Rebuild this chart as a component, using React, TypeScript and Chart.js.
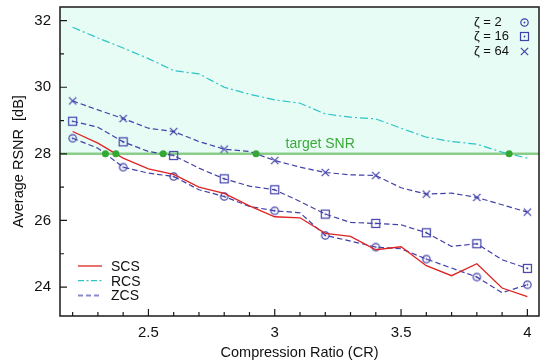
import React, { useEffect, useRef } from 'react';
import { Chart, registerables } from 'chart.js';

Chart.register(...registerables);

// ---------- data ----------
const compressionRatios = [2.2, 2.3, 2.4, 2.5, 2.6, 2.7, 2.8, 2.9, 3.0, 3.1, 3.2, 3.3, 3.4, 3.5, 3.6, 3.7, 3.8, 3.9, 4.0];
const scsValues = [28.67, 28.32, 27.87, 27.55, 27.38, 27.0, 26.81, 26.44, 26.11, 26.08, 25.61, 25.52, 25.12, 25.21, 24.64, 24.34, 24.7, 23.97, 23.71];
const rcsValues = [31.8, 31.48, 31.18, 30.86, 30.5, 30.4, 30.0, 29.79, 29.62, 29.52, 29.2, 29.1, 29.05, 28.77, 28.5, 28.37, 28.29, 28.05, 27.87];
const zcsZeta2 = [28.47, 28.17, 27.6, 27.42, 27.32, 26.92, 26.72, 26.42, 26.29, 26.23, 25.55, 25.38, 25.2, 25.15, 24.84, 24.57, 24.3, 23.83, 24.07];
const zcsZeta16 = [28.98, 28.8, 28.36, 28.07, 27.95, 27.57, 27.25, 27.03, 26.92, 26.57, 26.19, 25.94, 25.91, 25.87, 25.63, 25.22, 25.3, 24.82, 24.56];
const zcsZeta64 = [29.59, 29.32, 29.06, 28.77, 28.67, 28.37, 28.14, 28.07, 27.8, 27.6, 27.44, 27.37, 27.35, 26.98, 26.79, 26.82, 26.69, 26.47, 26.25];
const targetSNR = 28;
const targetLabel = 'target SNR';
const targetLabelCR = 3.18;

const xMajorTicks = [2.5, 3, 3.5, 4];
const xTickLabels = ['2.5', '3', '3.5', '4'];
const xMinorTicks = [2.2, 2.3, 2.4, 2.6, 2.7, 2.8, 2.9, 3.1, 3.2, 3.3, 3.4, 3.6, 3.7, 3.8, 3.9];
const yMajorTicks = [24, 26, 28, 30, 32];
const yTickLabels = ['24', '26', '28', '30', '32'];
const yMinorTicks = [25, 27, 29, 31];

const methodLabels = ['SCS', 'RCS', 'ZCS'];
const zetaLabels = ['ζ = 2', 'ζ = 16', 'ζ = 64'];

const xTitle = 'Compression Ratio (CR)';
const yTitle = 'Average RSNR  [dB]';

// ---------- styles ----------
const FONT = "'Liberation Sans', Arial, Helvetica, sans-serif";
const RED = '#dc2424';
const CYAN = '#2cc4c4';
const BLUE = '#4040a8';
const GREEN_LINE = '#88ce88';
const GREEN_DOT = '#34a834';
const GREEN_TEXT = '#3aaa3a';
const MINT = '#e8fcf6';
const ZCS_DASH = [5.5, 3];
const RCS_DASH = [8, 3, 2, 3];

type MarkerKind = 'circle' | 'square' | 'cross';

function makeMarker(kind: MarkerKind): HTMLCanvasElement {
  const c = document.createElement('canvas');
  c.width = 11;
  c.height = 11;
  const g = c.getContext('2d')!;
  g.strokeStyle = BLUE;
  g.fillStyle = BLUE;
  g.lineWidth = 1.2;
  if (kind === 'circle') {
    g.beginPath();
    g.arc(5.5, 5.5, 3.7, 0, Math.PI * 2);
    g.stroke();
    g.beginPath();
    g.arc(5.5, 5.5, 0.9, 0, Math.PI * 2);
    g.fill();
  } else if (kind === 'square') {
    g.strokeRect(1.5, 1.5, 8, 8);
    g.beginPath();
    g.arc(5.5, 5.5, 0.9, 0, Math.PI * 2);
    g.fill();
  } else {
    g.beginPath();
    g.moveTo(1.8, 1.8);
    g.lineTo(9.2, 9.2);
    g.moveTo(9.2, 1.8);
    g.lineTo(1.8, 9.2);
    g.stroke();
  }
  return c;
}

function toPoints(values: number[]) {
  return compressionRatios.map((cr, i) => ({ x: cr, y: values[i] }));
}

function crossings(values: number[], level: number) {
  for (let i = 0; i < values.length - 1; i++) {
    const a = values[i];
    const b = values[i + 1];
    if (a >= level && b < level) {
      const t = (a - level) / (a - b);
      const cr = compressionRatios[i] + t * (compressionRatios[i + 1] - compressionRatios[i]);
      return [{ x: cr, y: level }];
    }
  }
  return [];
}

function isIn(list: number[], v: number) {
  return list.findIndex((m) => Math.abs(m - v) < 1e-9);
}

export default function App() {
  const canvasRef = useRef<HTMLCanvasElement | null>(null);

  useEffect(() => {
    const canvas = canvasRef.current;
    if (!canvas) return;

    const markers = {
      circle: makeMarker('circle'),
      square: makeMarker('square'),
      cross: makeMarker('cross'),
    };
    const markerRadius = (ctx: any) => (ctx.dataIndex % 2 === 0 ? 5 : 0);

    const crossingPoints = [
      ...crossings(zcsZeta2, targetSNR),
      ...crossings(scsValues, targetSNR),
      ...crossings(zcsZeta16, targetSNR),
      ...crossings(zcsZeta64, targetSNR),
      ...crossings(rcsValues, targetSNR),
    ];

    const decor = {
      id: 'decor',
      beforeDatasetsDraw(chart: any) {
        const { ctx, chartArea: a, scales } = chart;
        const y = scales.y;
        const x = scales.x;
        const yt = y.getPixelForValue(targetSNR);
        ctx.save();
        ctx.fillStyle = MINT;
        ctx.fillRect(a.left, a.top, a.right - a.left, yt - a.top);
        ctx.strokeStyle = GREEN_LINE;
        ctx.lineWidth = 2.5;
        ctx.beginPath();
        ctx.moveTo(a.left, yt);
        ctx.lineTo(a.right, yt);
        ctx.stroke();
        ctx.fillStyle = GREEN_TEXT;
        ctx.font = `14px ${FONT}`;
        ctx.textAlign = 'center';
        ctx.textBaseline = 'alphabetic';
        ctx.fillText(targetLabel, x.getPixelForValue(targetLabelCR), yt - 6);
        ctx.restore();
      },
      afterDraw(chart: any) {
        const { ctx, chartArea: a, scales } = chart;
        const x = scales.x;
        const y = scales.y;
        ctx.save();
        // frame
        ctx.strokeStyle = '#1a1a1a';
        ctx.lineWidth = 1.5;
        ctx.strokeRect(a.left, a.top, a.right - a.left, a.bottom - a.top);
        // inward ticks
        ctx.lineWidth = 1.2;
        ctx.beginPath();
        xMajorTicks.forEach((v) => {
          const px = x.getPixelForValue(v);
          ctx.moveTo(px, a.bottom);
          ctx.lineTo(px, a.bottom - 7);
        });
        xMinorTicks.forEach((v) => {
          const px = x.getPixelForValue(v);
          ctx.moveTo(px, a.bottom);
          ctx.lineTo(px, a.bottom - 4);
        });
        yMajorTicks.forEach((v) => {
          const py = y.getPixelForValue(v);
          ctx.moveTo(a.left, py);
          ctx.lineTo(a.left + 7, py);
        });
        yMinorTicks.forEach((v) => {
          const py = y.getPixelForValue(v);
          ctx.moveTo(a.left, py);
          ctx.lineTo(a.left + 4, py);
        });
        ctx.stroke();

        // top-right legend (zeta markers)
        ctx.font = `13px ${FONT}`;
        ctx.fillStyle = '#111';
        ctx.textAlign = 'left';
        ctx.textBaseline = 'middle';
        const zMarkers = [markers.circle, markers.square, markers.cross];
        zetaLabels.forEach((lab, i) => {
          const ly = a.top + 15 + i * 14.7;
          ctx.fillText(lab, a.right - 65, ly);
          const m = zMarkers[i];
          ctx.drawImage(m, Math.round(a.right - 15 - m.width / 2), Math.round(ly - m.height / 2));
        });

        // bottom-left legend (methods)
        ctx.font = `14px ${FONT}`;
        const styles = [
          { color: RED, dash: [] as number[], width: 1.3 },
          { color: CYAN, dash: [6, 2.5, 2, 2.5], width: 1.3 },
          { color: '#8a8ad2', dash: [5, 3], width: 2 },
        ];
        methodLabels.forEach((lab, i) => {
          const ly = a.bottom - 50 + i * 14.7;
          const st = styles[i];
          ctx.strokeStyle = st.color;
          ctx.lineWidth = st.width;
          ctx.setLineDash(st.dash);
          ctx.beginPath();
          ctx.moveTo(a.left + 18, ly);
          ctx.lineTo(a.left + 42, ly);
          ctx.stroke();
          ctx.setLineDash([]);
          ctx.fillStyle = '#111';
          ctx.fillText(lab, a.left + 51, ly + 1);
        });
        ctx.restore();
      },
    };

    const lineBase = {
      type: 'line' as const,
      fill: false,
      tension: 0,
      spanGaps: true,
    };

    const chart = new Chart(canvas, {
      type: 'line',
      data: {
        datasets: [
          {
            ...lineBase,
            label: 'target crossings',
            data: crossingPoints,
            showLine: false,
            pointRadius: 3.5,
            pointStyle: 'circle',
            pointBackgroundColor: GREEN_DOT,
            pointBorderColor: GREEN_DOT,
            pointBorderWidth: 0,
            order: 0,
          },
          {
            ...lineBase,
            label: 'SCS',
            data: toPoints(scsValues),
            borderColor: RED,
            borderWidth: 1.3,
            pointRadius: 0,
            order: 1,
          },
          {
            ...lineBase,
            label: 'RCS',
            data: toPoints(rcsValues),
            borderColor: CYAN,
            borderWidth: 1.2,
            borderDash: RCS_DASH,
            pointRadius: 0,
            order: 2,
          },
          {
            ...lineBase,
            label: 'ZCS ζ=2',
            data: toPoints(zcsZeta2),
            borderColor: BLUE,
            borderWidth: 1.2,
            borderDash: ZCS_DASH,
            pointStyle: markers.circle,
            pointRadius: markerRadius,
            order: 3,
          },
          {
            ...lineBase,
            label: 'ZCS ζ=16',
            data: toPoints(zcsZeta16),
            borderColor: BLUE,
            borderWidth: 1.2,
            borderDash: ZCS_DASH,
            pointStyle: markers.square,
            pointRadius: markerRadius,
            order: 4,
          },
          {
            ...lineBase,
            label: 'ZCS ζ=64',
            data: toPoints(zcsZeta64),
            borderColor: BLUE,
            borderWidth: 1.2,
            borderDash: ZCS_DASH,
            pointStyle: markers.cross,
            pointRadius: markerRadius,
            order: 5,
          },
        ],
      },
      options: {
        animation: false,
        responsive: true,
        maintainAspectRatio: false,
        devicePixelRatio: 1,
        layout: { autoPadding: false, padding: { top: 7, right: 2, left: 0, bottom: 0 } },
        plugins: {
          legend: { display: false },
          tooltip: { enabled: false },
        },
        events: [],
        scales: {
          x: {
            type: 'linear',
            min: 2.15,
            max: 4.046,
            border: { display: false },
            grid: { drawOnChartArea: false, drawTicks: false },
            afterBuildTicks: (scale: any) => {
              scale.ticks = [...xMajorTicks, ...xMinorTicks]
                .sort((p, q) => p - q)
                .map((v) => ({ value: v }));
            },
            afterFit: (scale: any) => {
              scale.height = 46;
              scale.paddingLeft = 0;
              scale.paddingRight = 0;
            },
            ticks: {
              autoSkip: false,
              maxRotation: 0,
              padding: 8,
              color: '#111',
              font: { family: FONT, size: 15 },
              callback: (value: any) => {
                const i = isIn(xMajorTicks, Number(value));
                return i >= 0 ? xTickLabels[i] : '';
              },
            },
            title: {
              display: true,
              text: xTitle,
              color: '#111',
              font: { family: FONT, size: 14.5 },
              padding: { top: 0, bottom: 0 },
            },
          },
          y: {
            type: 'linear',
            min: 23.13,
            max: 32.41,
            border: { display: false },
            grid: { drawOnChartArea: false, drawTicks: false },
            afterBuildTicks: (scale: any) => {
              scale.ticks = [...yMajorTicks, ...yMinorTicks]
                .sort((p, q) => p - q)
                .map((v) => ({ value: v }));
            },
            afterFit: (scale: any) => {
              scale.width = 60;
              scale.paddingTop = 0;
              scale.paddingBottom = 0;
            },
            ticks: {
              autoSkip: false,
              padding: 9,
              color: '#111',
              font: { family: FONT, size: 15 },
              callback: (value: any) => {
                const i = isIn(yMajorTicks, Number(value));
                return i >= 0 ? yTickLabels[i] : '';
              },
            },
            title: {
              display: true,
              text: yTitle,
              color: '#111',
              font: { family: FONT, size: 14.5 },
              padding: { top: 10, bottom: 0 },
            },
          },
        },
      },
      plugins: [decor],
    } as any);

    return () => {
      chart.destroy();
    };
  }, []);

  return (
    <div style={{ position: 'fixed', left: 0, top: 0, width: 541, height: 362, background: '#fff' }}>
      <canvas ref={canvasRef} />
    </div>
  );
}
